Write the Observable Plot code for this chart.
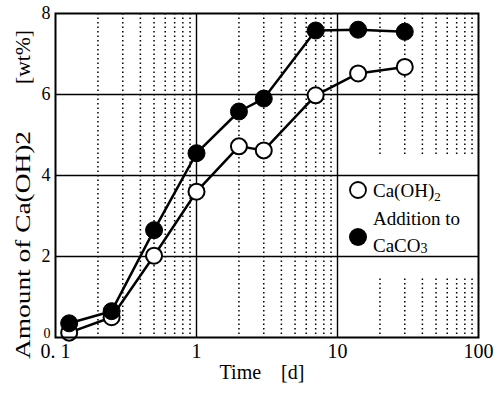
<!DOCTYPE html>
<html><head><meta charset="utf-8">
<script src="https://cdn.jsdelivr.net/npm/d3@7"></script>
<script src="https://cdn.jsdelivr.net/npm/@observablehq/plot@0.6"></script>
<style>body{margin:0;background:#fff}#chart svg{display:block}#chart svg text{font-family:"Liberation Serif","Times New Roman",Times,"DejaVu Serif",serif}</style>
</head><body><div id="chart"></div>
<script>
const times = [0.125, 0.25, 0.5, 1, 2, 3, 7, 14, 30];
const caOH2 = [0.12, 0.5, 2.02, 3.6, 4.72, 4.62, 5.98, 6.52, 6.68];
const addCaCO3 = [0.35, 0.65, 2.65, 4.55, 5.58, 5.9, 7.58, 7.6, 7.55];
const xTicks = [0.1, 1, 10, 100];
const xTickLabels = ["0. 1", "1", "10", "100"];
const yTicks = [0, 2, 4, 6, 8];
const majorX = [1, 10];
const majorY = [2, 4, 6];
const minorX = [0.2,0.3,0.4,0.5,0.6,0.7,0.8,0.9,2,3,4,5,6,7,8,9,20,30,40,50,60,70,80,90];
const xLabel = "Time    [d]";
const yLabel = "Amount of Ca(OH)2";
const yUnit = "[wt%]";

const rowsOpen = times.map((t, i) => ({t, v: caOH2[i]}));
const rowsFilled = times.map((t, i) => ({t, v: addCaCO3[i]}));
const serif = "'Liberation Serif', 'Times New Roman', Times, serif";

const plot = Plot.plot({
  width: 500, height: 399,
  marginTop: 13, marginBottom: 62, marginLeft: 55, marginRight: 22,
  style: {fontFamily: serif, background: "#fff", color: "#000", overflow: "visible"},
  x: {type: "log", domain: [0.1, 100]},
  y: {domain: [0, 8]},
  marks: [
    Plot.ruleX(minorX, {stroke: "#000", strokeWidth: 1.5, strokeDasharray: "1.5 3"}),
    Plot.ruleX(majorX, {stroke: "#000", strokeWidth: 1.4}),
    Plot.ruleY(majorY, {stroke: "#000", strokeWidth: 1.4}),
    Plot.line(rowsOpen, {x: "t", y: "v", stroke: "#000", strokeWidth: 2.5}),
    Plot.line(rowsFilled, {x: "t", y: "v", stroke: "#000", strokeWidth: 2.5}),
    Plot.dot(rowsOpen, {x: "t", y: "v", r: 8, fill: "#fff", stroke: "#000", strokeWidth: 2}),
    Plot.dot(rowsFilled, {x: "t", y: "v", r: 8.5, fill: "#000", stroke: "#000", strokeWidth: 1}),
    Plot.frame({stroke: "#000", strokeWidth: 2}),
    Plot.axisX({ticks: xTicks, tickFormat: d => xTickLabels[xTicks.indexOf(d)], tickSize: 0, tickPadding: 6, fontSize: 20, label: null}),
    Plot.axisY({ticks: yTicks, tickSize: 0, tickPadding: 5, fontSize: 18, label: null})
  ]
});

const svg = d3.select(plot);
const sx = plot.scale("x"), sy = plot.scale("y");

// legend background cell (inserted above dotted grid, below solid grid)
const dotted = plot.querySelector('g[aria-label="rule"]');
const bg = document.createElementNS("http://www.w3.org/2000/svg", "rect");
const lx1 = sx.apply(10) + 1.5, lx2 = sx.apply(100) - 1.5;
const ly1 = sy.apply(4.45), ly2 = sy.apply(1.5);
bg.setAttribute("x", lx1); bg.setAttribute("y", ly1);
bg.setAttribute("width", lx2 - lx1); bg.setAttribute("height", ly2 - ly1);
bg.setAttribute("fill", "#fff");
dotted.parentNode.insertBefore(bg, dotted.nextSibling);

// smaller zero label, nudged up so it clears the "0. 1" label
svg.selectAll('g[aria-label="y-axis tick label"] text').filter(function(){return this.textContent === "0";}).attr("font-size", 14).attr("dy", "-0.28em");

// legend
const lg = svg.append("g").attr("font-size", 19).attr("fill", "#000").attr("text-anchor", "start");
const lcx = sx.apply(10) + 21, ltop = sy.apply(4);
lg.append("circle").attr("cx", lcx).attr("cy", ltop + 15).attr("r", 8).attr("fill", "#fff").attr("stroke", "#000").attr("stroke-width", 1.8);
const t1 = lg.append("text").attr("x", lcx + 15).attr("y", ltop + 22);
t1.append("tspan").text("Ca(OH)");
t1.append("tspan").attr("font-size", 13).attr("dy", 4).text("2");
lg.append("circle").attr("cx", lcx).attr("cy", ltop + 62).attr("r", 9).attr("fill", "#000");
lg.append("text").attr("x", lcx + 15).attr("y", ltop + 50).text("Addition to");
const t3 = lg.append("text").attr("x", lcx + 15).attr("y", ltop + 77);
t3.append("tspan").text("CaCO");
t3.append("tspan").attr("font-size", 14).attr("dy", 1).text("3");

// axis titles
svg.append("text").attr("x", 262).attr("y", 379).attr("text-anchor", "middle")
  .attr("font-size", 20).attr("fill", "#000")
  .style("white-space", "pre").text(xLabel);
svg.append("text").attr("transform", "translate(30,245) rotate(-90)").attr("text-anchor", "middle")
  .attr("font-size", 21).attr("fill", "#000")
  .attr("textLength", 228).attr("lengthAdjust", "spacingAndGlyphs").text(yLabel);
svg.append("text").attr("transform", "translate(30,57) rotate(-90)").attr("text-anchor", "middle")
  .attr("font-size", 21).attr("fill", "#000")
  .attr("textLength", 54).attr("lengthAdjust", "spacingAndGlyphs").text(yUnit);

document.getElementById("chart").appendChild(plot);
</script>
</body></html>
